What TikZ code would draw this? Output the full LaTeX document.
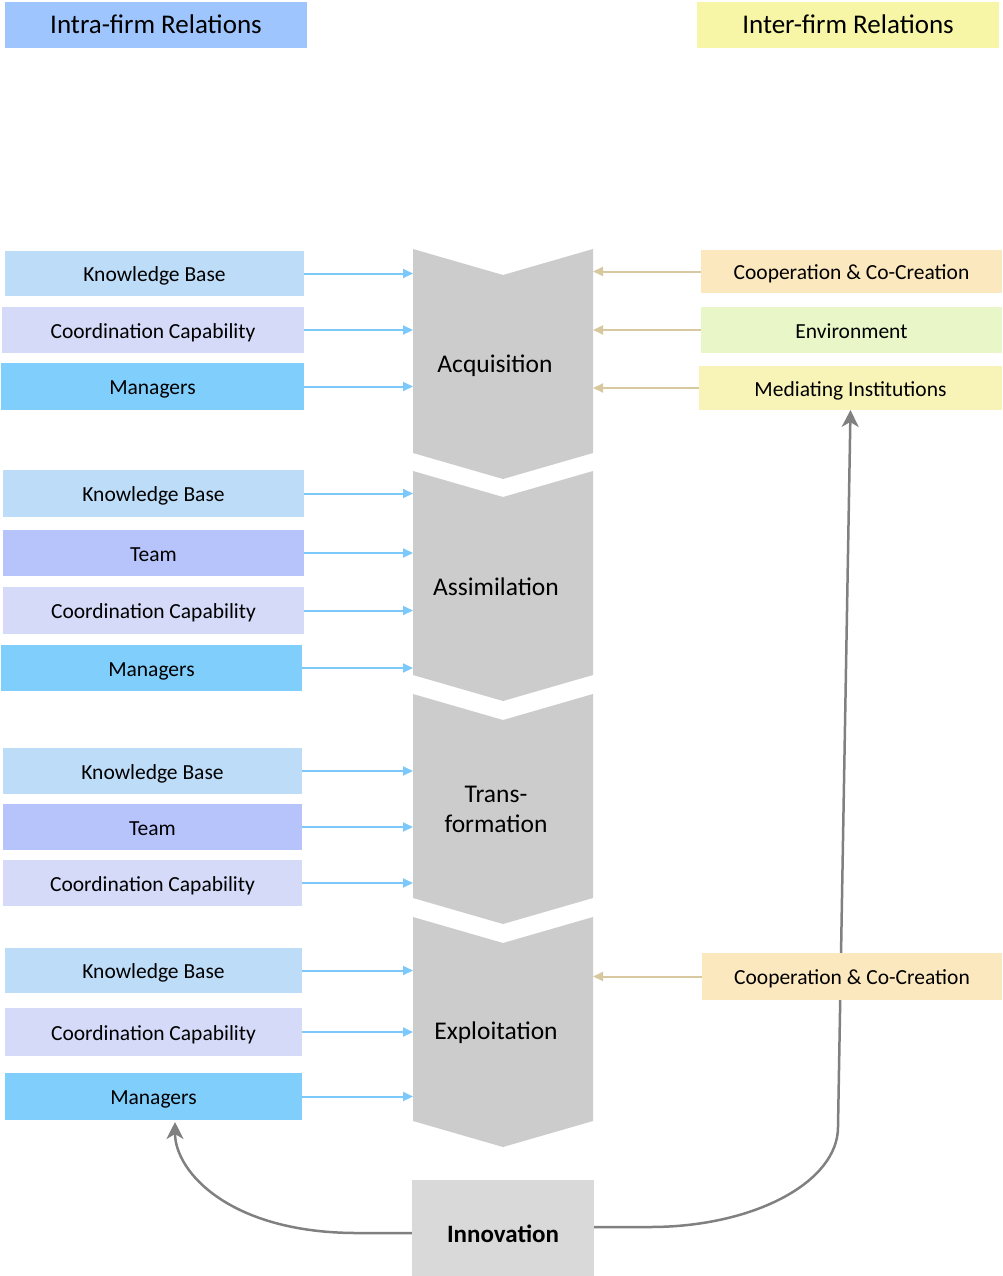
\documentclass[tikz,border=0pt]{standalone}
\usepackage{fontspec}
\setmainfont{Carlito}
\usetikzlibrary{arrows.meta,calc}

\definecolor{hdrIntra}{RGB}{158,197,254}
\definecolor{hdrInter}{RGB}{247,246,166}
\definecolor{kbFill}{RGB}{189,220,248}
\definecolor{coFill}{RGB}{212,218,248}
\definecolor{mgFill}{RGB}{128,206,252}
\definecolor{tmFill}{RGB}{183,196,252}
\definecolor{cpFill}{RGB}{251,232,190}
\definecolor{envFill}{RGB}{233,247,200}
\definecolor{medFill}{RGB}{248,244,184}
\definecolor{chevFill}{RGB}{204,204,204}
\definecolor{innoFill}{RGB}{217,217,217}
\definecolor{blueArr}{RGB}{125,200,250}
\definecolor{tanArr}{RGB}{215,200,160}
\definecolor{greyArr}{RGB}{128,128,128}

\pgfdeclarelayer{background}
\pgfsetlayers{background,main}

\begin{document}
\begin{tikzpicture}[x=1pt,y=-1pt,
  box/.style={inner sep=0pt, outer sep=0pt, text=black,
    text height=20pt, text depth=4pt,
    font=\fontsize{21.5}{24}\selectfont},
  wh/.style 2 args={minimum width=#1pt, minimum height=#2pt},
  hdr/.style={box, text height=22pt, text depth=5pt,
    font=\fontsize{27}{30}\selectfont},
  kb/.style={box, fill=kbFill},
  co/.style={box, fill=coFill},
  mg/.style={box, fill=mgFill},
  tm/.style={box, fill=tmFill},
  stage/.style={inner sep=0pt, align=center, text=black,
    font=\fontsize{25.5}{30}\selectfont},
  inarrow/.style={draw=blueArr, line width=2pt,
    -{Triangle[length=10pt,width=9pt]}},
  exarrow/.style={draw=tanArr, line width=2pt,
    -{Triangle[length=10pt,width=9pt]}},
  feedback/.style={draw=greyArr, line width=2.5pt,
    -{Stealth[length=17pt,width=17pt,inset=5pt]}},
  pics/chevron/.style={code={
    \fill[chevFill] (413,0) -- (503,26) -- (593,0) -- (593,204)
      -- (503,230) -- (413,204) -- cycle;}}
]
\useasboundingbox (0,0) rectangle (1002,1276);

% column headers
\node[hdr, fill=hdrIntra, wh={302}{46}] (intra) at (156,25) {Intra-firm Relations};
\node[hdr, fill=hdrInter, wh={302}{46}] (inter) at (848,25) {Inter-firm Relations};

% process chevrons
\pic at (0,249) {chevron};
\pic at (0,471) {chevron};
\pic at (0,694) {chevron};
\pic at (0,917) {chevron};
\coordinate (cL) at (413,0);
\coordinate (cR) at (593,0);

\node[stage] (acq) at (495,366) {Acquisition};
\node[stage] (asm) at (496,587) {Assimilation};
\node[stage] (trn) at (496,809) {Trans-\\formation};
\node[stage] (exp) at (496,1033) {Exploitation};

% outcome
\node[box, fill=innoFill, wh={182}{96}, text height=28pt, text depth=0pt,
  font=\fontsize{25}{28}\selectfont\bfseries] (inno) at (503,1228) {Innovation};

% intra-firm factors: acquisition
\node[kb, wh={299}{45}] (kb1) at (154.5,273.5) {Knowledge Base};
\node[co, wh={302}{46}] (co1) at (153,330) {Coordination Capability};
\node[mg, wh={303}{47}] (mg1) at (152.5,386.5) {Managers};
% assimilation
\node[kb, wh={301}{47}] (kb2) at (153.5,493.5) {Knowledge Base};
\node[tm, wh={301}{46}] (tm2) at (153.5,553) {Team};
\node[co, wh={301}{47}] (co2) at (153.5,610.5) {Coordination Capability};
\node[mg, wh={301}{46}] (mg2) at (151.5,668) {Managers};
% transformation
\node[kb, wh={299}{46}] (kb3) at (152.5,771) {Knowledge Base};
\node[tm, wh={299}{46}] (tm3) at (152.5,827) {Team};
\node[co, wh={299}{46}] (co3) at (152.5,883) {Coordination Capability};
% exploitation
\node[kb, wh={297}{45}] (kb4) at (153.5,970.5) {Knowledge Base};
\node[co, wh={297}{48}] (co4) at (153.5,1032) {Coordination Capability};
\node[mg, wh={297}{47}] (mg4) at (153.5,1096.5) {Managers};

% inter-firm factors
\node[box, fill=cpFill, wh={301}{43}] (cp1) at (851.5,271.5) {Cooperation \& Co-Creation};
\node[box, fill=envFill, wh={301}{46}] (env) at (851.5,330) {Environment};
\node[box, fill=medFill, wh={303}{44}] (med) at (850.5,388) {Mediating Institutions};
\node[box, fill=cpFill, wh={300}{47}] (cp2) at (852,976.5) {Cooperation \& Co-Creation};

% intra-firm inputs
\foreach \n in {kb1,co1,mg1,kb2,tm2,co2,mg2,kb3,tm3,co3,kb4,co4,mg4}
  \draw[inarrow] (\n.east) -- (\n.east -| cL);

% inter-firm inputs
\foreach \n in {cp1,env,med,cp2}
  \draw[exarrow] (\n.west) -- (\n.west -| cR);

% feedback loops from innovation
\begin{pgfonlayer}{background}
  \draw[feedback] ([yshift=-5pt]inno.west) -- ++(-55,0)
    .. controls ++(-127,0) and ($(mg4.south west)+(170,52)$) ..
    ($(mg4.south west)+(170,2)$);
  \draw[feedback] ([yshift=1pt]inno.east) -- ++(56,0)
    .. controls ++(104,0) and (838,1182) .. (838,1127) -- (med.south);
\end{pgfonlayer}
\end{tikzpicture}
\end{document}
